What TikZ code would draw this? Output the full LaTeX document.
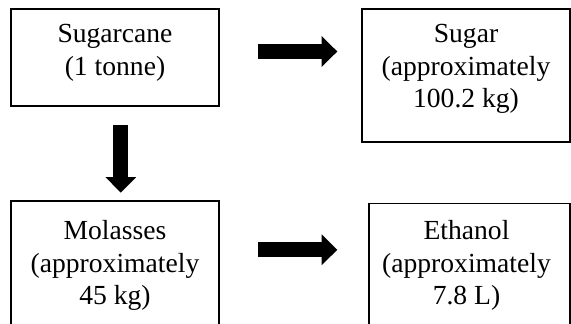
\documentclass[tikz,border=0pt]{standalone}
\usepackage{fontspec}
\setmainfont{Liberation Serif}
\usetikzlibrary{arrows.meta}
\begin{document}
\begin{tikzpicture}[x=1pt,y=1pt,
  stagebox/.style={draw=black, line width=1.3pt, rectangle, inner sep=0pt,
    outer sep=0pt, anchor=north west},
  stagetext/.style={anchor=north, align=center, inner sep=0pt,
    font=\fontsize{27.6}{32.5}\selectfont},
  blockarrow/.style={line width=14.8pt,
    -{Triangle[length=15.6pt, width=30.7pt, line width=0pt]}}
]
\useasboundingbox (0,0) rectangle (571,324);
\clip (0,0) rectangle (571,324);

% process stages
\node[stagebox, minimum width=208pt, minimum height=97pt]  (cane)  at (11,315)    {};
\node[stagebox, minimum width=208pt, minimum height=133pt] (sugar) at (362,315)   {};
\node[stagebox, minimum width=208pt, minimum height=160pt] (mol)   at (11,123)    {};
\node[stagebox, minimum width=201pt, minimum height=160pt] (eth)   at (369,120.5) {};

% stage captions
\node[stagetext] (canetxt)  at ([yshift=-15.5pt]cane.north)  {Sugarcane\\(1 tonne)};
\node[stagetext] (sugartxt) at ([yshift=-15.5pt]sugar.north) {Sugar\\(approximately\\100.2 kg)};
\node[stagetext] (moltxt)   at ([yshift=-19.4pt]mol.north)   {Molasses\\(approximately\\45 kg)};
\node[stagetext] (ethtxt)   at ([shift={(-3pt,-16.9pt)}]eth.north) {Ethanol\\(approximately\\7.8 L)};

% flow arrows
\draw[blockarrow] ([shift={(39.3pt,6pt)}]cane.east) -- ++(79,0);
\draw[blockarrow] ([shift={(5.8pt,-19pt)}]cane.south) -- ++(0,-67.7);
\draw[blockarrow] ([shift={(39.3pt,-48.8pt)}]mol.north east) -- ++(79,0);
\end{tikzpicture}
\end{document}
